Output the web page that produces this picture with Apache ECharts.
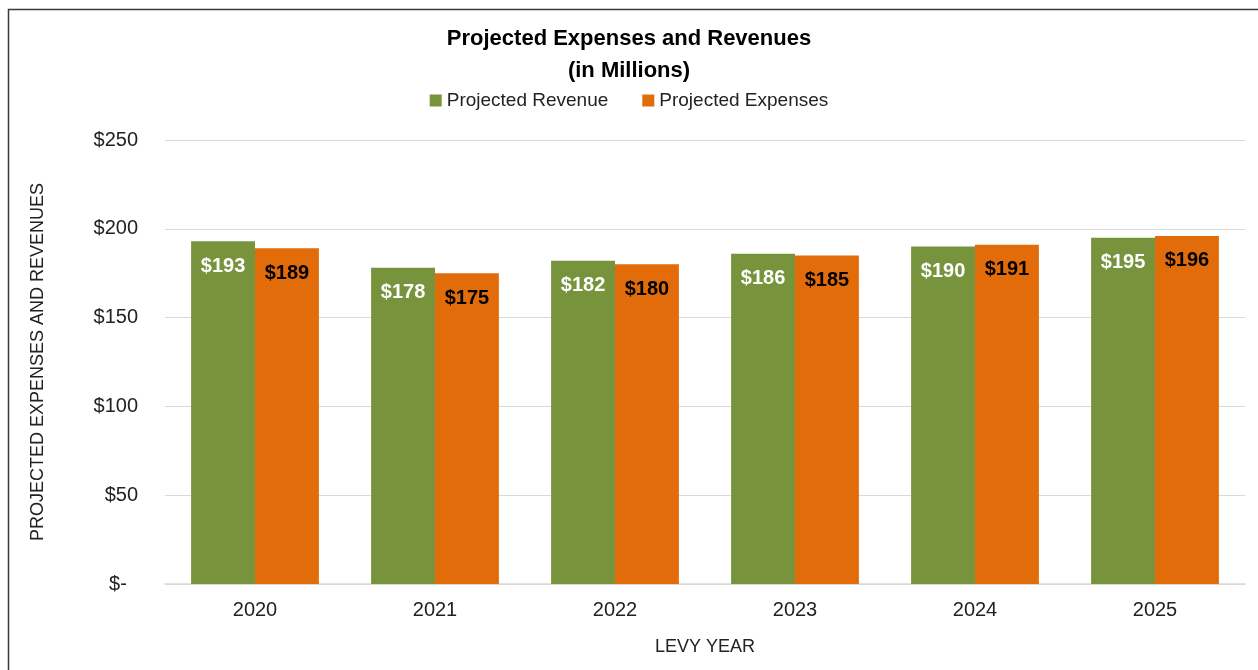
<!DOCTYPE html>
<html>
<head>
<meta charset="utf-8">
<script src="https://cdn.jsdelivr.net/npm/echarts@6/dist/echarts.min.js"></script>
<style>
  html, body { margin: 0; padding: 0; background: #fff; }
  #chart { width: 1258px; height: 670px; }
</style>
</head>
<body>
<div id="chart"></div>
<script>
var years = ['2020', '2021', '2022', '2023', '2024', '2025'];
var revenue = [193, 178, 182, 186, 190, 195];
var expenses = [189, 175, 180, 185, 191, 196];

var chart = echarts.init(document.getElementById('chart'));

var labelBase = {
  show: true,
  position: 'insideTop',
  distance: 15,
  fontFamily: 'Liberation Sans',
  fontWeight: 'bold',
  fontSize: 20,
  formatter: function (p) { return '$' + p.value; }
};

chart.setOption({
  backgroundColor: '#ffffff',
  animation: false,
  graphic: [{
    type: 'rect',
    shape: { x: 8.5, y: 9.5, width: 1300, height: 700 },
    style: { fill: 'none', stroke: '#3a3a3a', lineWidth: 1.5 },
    silent: true
  }],
  title: {
    text: 'Projected Expenses and Revenues\n(in Millions)',
    left: 'center',
    top: 18,
    textStyle: {
      fontFamily: 'Liberation Sans',
      fontWeight: 'bold',
      fontSize: 22,
      lineHeight: 32,
      color: '#000'
    }
  },
  legend: {
    top: 86,
    left: 'center',
    itemWidth: 12,
    itemHeight: 12,
    itemGap: 34,
    icon: 'rect',
    textStyle: {
      fontFamily: 'Liberation Sans',
      fontSize: 19,
      color: '#222'
    },
    data: ['Projected Revenue', 'Projected Expenses']
  },
  grid: { left: 165, right: 13, top: 140, bottom: 86 },
  xAxis: {
    type: 'category',
    data: years,
    name: 'LEVY YEAR',
    nameLocation: 'middle',
    nameGap: 54,
    nameTextStyle: { fontFamily: 'Liberation Sans', fontSize: 18, color: '#222' },
    axisLine: { lineStyle: { color: '#d9d9d9', width: 1.5 } },
    axisTick: { show: false },
    axisLabel: { fontFamily: 'Liberation Sans', fontSize: 20, color: '#222', margin: 16 }
  },
  yAxis: {
    type: 'value',
    min: 0,
    max: 250,
    interval: 50,
    name: 'PROJECTED EXPENSES AND REVENUES',
    nameLocation: 'middle',
    nameGap: 118,
    nameRotate: 90,
    nameTextStyle: { fontFamily: 'Liberation Sans', fontSize: 18, color: '#222' },
    axisLine: { show: false },
    axisTick: { show: false },
    splitLine: { lineStyle: { color: '#d9d9d9', width: 1.2 } },
    axisLabel: {
      fontFamily: 'Liberation Sans',
      fontSize: 20,
      color: '#222',
      margin: 27,
      formatter: function (v) { return v === 0 ? '$-  ' : '$' + v; }
    }
  },
  series: [{
    name: 'Projected Revenue',
    type: 'bar',
    data: revenue,
    barGap: '0%',
    barCategoryGap: '29%',
    itemStyle: { color: '#77933c' },
    label: Object.assign({}, labelBase, { color: '#ffffff' })
  }, {
    name: 'Projected Expenses',
    type: 'bar',
    data: expenses,
    itemStyle: { color: '#e36c0a' },
    label: Object.assign({}, labelBase, { color: '#000000' })
  }]
});
</script>
</body>
</html>
